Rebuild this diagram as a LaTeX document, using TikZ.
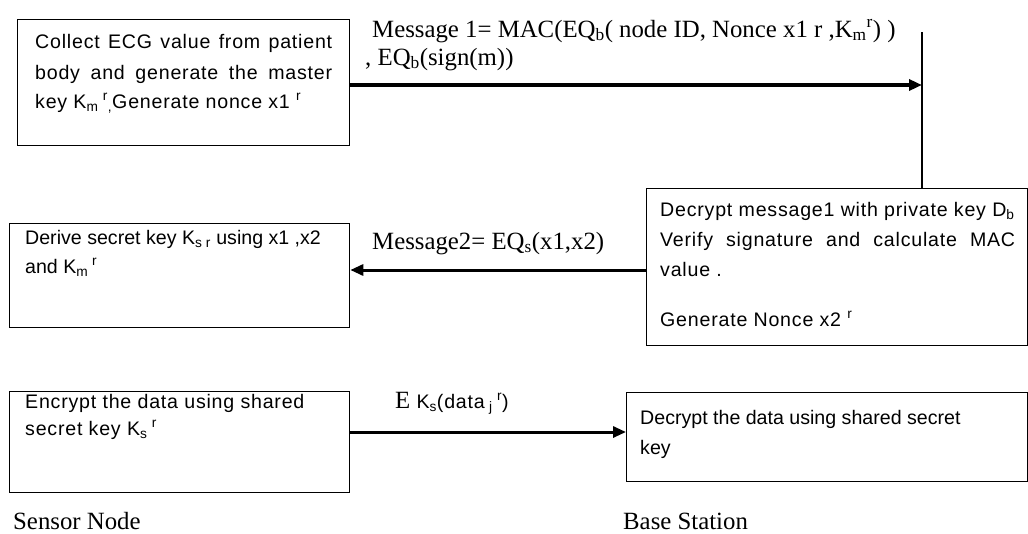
\documentclass[tikz,border=0pt]{standalone}
\usepackage{fontspec}
\setmainfont{Liberation Serif}
\newfontfamily\sansbox[LetterSpace=4]{Liberation Sans}
\newfontfamily\sansboxn{Liberation Sans}
\usetikzlibrary{arrows.meta}
\newcommand\bxfont{\sansbox\fontsize{19.6}{23}\selectfont}
\newcommand\bxfontn{\sansboxn\fontsize{19.6}{23}\selectfont}
\newcommand\lbfont{\rmfamily\fontsize{24.8}{28}\selectfont}
\tikzset{
  box/.style={draw, line width=1.3pt, inner sep=0pt, anchor=north west},
  txt/.style={anchor=base west, inner sep=0pt, font=\bxfont},
  txtn/.style={anchor=base west, inner sep=0pt, font=\bxfontn},
  lbl/.style={anchor=base west, inner sep=0pt, font=\lbfont},
  arr/.style={line width=3pt, -{Triangle[length=13pt,width=11pt]}},
}
\begin{document}
\begin{tikzpicture}[x=1pt,y=-1pt]
\useasboundingbox (0,0) rectangle (1028,533);
% boxes
\node[box, minimum width=332pt, minimum height=126pt] (box1) at (17,19) {};
\node[box, minimum width=381pt, minimum height=157pt] (box2) at (646,188) {};
\node[box, minimum width=340pt, minimum height=104pt] (box3) at (9,223) {};
\node[box, minimum width=340pt, minimum height=101pt] (box5) at (9,391) {};
\node[box, minimum width=401pt, minimum height=89pt] (box6) at (626,392) {};
% box texts
\node[txt] (t11) at (35,48.5) {\makebox[297pt][s]{Collect ECG value from patient}};
\node[txt] (t12) at (35,79) {\makebox[297pt][s]{body and generate the master}};
\node[txt] (t13) at (35,108) {key K\textsubscript{m}\textsuperscript{ r}\textsubscript{,}Generate nonce x1 \textsuperscript{r}};
\node[txt] (t21) at (660,216.5) {Decrypt message1 with private key D\textsubscript{b}};
\node[txt] (t22) at (660,246.5) {\makebox[355pt][s]{Verify signature and calculate MAC}};
\node[txt] (t23) at (660,276.5) {value .};
\node[txt] (t24) at (660,326.5) {Generate Nonce x2 \textsuperscript{r}};
\node[txtn] (t31) at (25,244.5) {Derive secret key K\textsubscript{s r} using x1 ,x2};
\node[txtn] (t32) at (25,273.5) {and K\textsubscript{m}\textsuperscript{ r}};
\node[txt] (t51) at (25,408) {Encrypt the data using shared};
\node[txt] (t52) at (25,435) {secret key K\textsubscript{s}\textsuperscript{ r}};
\node[txtn] (t61) at (640,424.5) {Decrypt the data using shared secret};
\node[txtn] (t62) at (640,454.5) {key};
% vertical line at base station
\coordinate (vtop) at (922,32);
\draw[line width=1.5pt] (vtop) -- (vtop |- box2.north);
% arrows
\draw[arr, line width=4pt] (box1.east |- 0,85) -- (vtop |- 0,85);
\draw[arr] (box2.west |- 0,270) -- (box3.east |- 0,270);
\draw[arr] (box5.east |- 0,432) -- (box6.west |- 0,432);
% labels
\node[lbl] (m1a) at (372,37) {Message 1= MAC(EQ\textsubscript{b}( node ID, Nonce x1 r ,K\textsubscript{m}\textsuperscript{r}) )};
\node[lbl] (m1b) at (365,65) {, EQ\textsubscript{b}(sign(m))};
\node[lbl] (m2) at (372,249) {Message2= EQ\textsubscript{s}(x1,x2)};
\node[lbl] (m3) at (395,408) {E {\bxfont K\textsubscript{s}(data\textsubscript{ j}\textsuperscript{ r})}};
\node[lbl] (sn) at (13,529) {Sensor Node};
\node[lbl] (bs) at (623,529) {Base Station};
\end{tikzpicture}
\end{document}
